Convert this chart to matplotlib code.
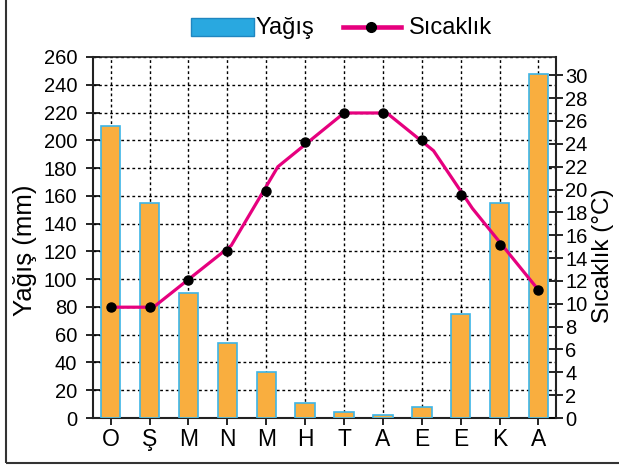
import numpy as np
import matplotlib
matplotlib.use("Agg")
import matplotlib.pyplot as plt
from matplotlib.patches import Rectangle
from matplotlib.lines import Line2D

plt.rcParams['font.family'] = ['Liberation Sans', 'DejaVu Sans']

# ---- data ----
months = ["O", "Ş", "M", "N", "M", "H", "T", "A", "E", "E", "K", "A"]
rain_mm = [210, 155, 90, 54, 33, 10.5, 4.5, 2, 8, 75, 155, 248]
temp_c = [9.7, 9.7, 12.1, 14.6, 19.85, 24.2, 26.7, 26.7, 24.3, 19.5, 15.1, 11.2]
# vertices of the drawn temperature line (category position, degC)
temp_line_pos = [0, 1.1, 3.1, 4.3, 6.0, 7.1, 8.3, 9.3, 11]
temp_line_val = [9.7, 9.7, 15.1, 22.0, 26.7, 26.7, 23.4, 18.35, 11.2]
left_ticks = list(range(0, 261, 20))
right_ticks = list(range(0, 31, 2))

W, H = 619, 473
fig = plt.figure(figsize=(W / 100, H / 100), dpi=100)

def fx(px):
    return px / W

def fy(py):
    return 1 - py / H

ax = fig.add_axes([fx(93), fy(418), fx(556) - fx(93), fy(57) - fy(418)])
x = np.arange(len(months))
ax.bar(x, rain_mm, width=0.5, color='#F9AE3F', edgecolor='#3DB5E6',
       linewidth=1.2, zorder=3)
ax.set_xlim(-0.455, 11.45)
ax.set_ylim(0, 260)
ax.set_yticks(left_ticks)
ax.set_xticks(x)
ax.set_xticklabels(months)
ax.set_axisbelow(True)
ax.grid(True, color='black', linestyle=(0, (2, 2)), linewidth=1.0)
ax.tick_params(axis='y', direction='inout', length=10, width=1.2, pad=6.5,
               labelsize=14.5, colors='black')
ax.tick_params(axis='x', direction='out', length=5, width=1.2, pad=2,
               labelsize=16.5)
for s in ['left', 'bottom']:
    ax.spines[s].set_linewidth(1.5)
    ax.spines[s].set_color('#222222')
ax.spines['top'].set_linewidth(1.2)
ax.spines['top'].set_color('#222222')
ax.spines['right'].set_visible(False)

ax2 = ax.twinx()
ax2.set_ylim(0, 31.6)
ax2.set_yticks(right_ticks)
ax2.tick_params(axis='y', direction='inout', length=10, width=1.2, pad=1.5,
                labelsize=14.5)
ax2.spines['right'].set_linewidth(1.5)
ax2.spines['right'].set_color('#222222')
for s in ['left', 'top', 'bottom']:
    ax2.spines[s].set_visible(False)
ax2.plot(temp_line_pos, temp_line_val, color='#E6007E', linewidth=2.3,
         zorder=4, solid_joinstyle='miter')
ax2.plot(x, temp_c, linestyle='none', marker='o', color='black',
         markersize=6.5, zorder=5)

fig.text(fx(25), fy(250), "Yağış (mm)", rotation=90, ha='center',
         va='center', fontsize=18.5)
fig.text(fx(603.5), fy(256), "Sıcaklık (°C)", rotation=90, ha='center',
         va='center', fontsize=17.5)

# legend (drawn by hand)
fig.add_artist(Rectangle((fx(190.5), fy(35.7)), fx(254) - fx(190.5),
                         fy(18) - fy(35.7), transform=fig.transFigure,
                         facecolor='#29A8E0', edgecolor='#1F86C0',
                         linewidth=1.0))
fig.text(fx(255), fy(33.7), "Yağış", ha='left', va='baseline', fontsize=17)
fig.add_artist(Line2D([fx(343), fx(401)], [fy(26.6), fy(26.6)],
                      transform=fig.transFigure, color='#E6007E',
                      linewidth=3.3))
fig.add_artist(Line2D([fx(371)], [fy(26.6)], transform=fig.transFigure,
                      marker='o', color='black', markersize=7,
                      linestyle='none'))
fig.text(fx(409), fy(33.7), "Sıcaklık", ha='left', va='baseline',
         fontsize=17)

# outer frame
fig.add_artist(Rectangle((fx(6), fy(463)), fx(640) - fx(6),
                         fy(-20) - fy(463), transform=fig.transFigure,
                         fill=False, edgecolor='#333333', linewidth=1.5))

fig.savefig("out.png", dpi=100)
